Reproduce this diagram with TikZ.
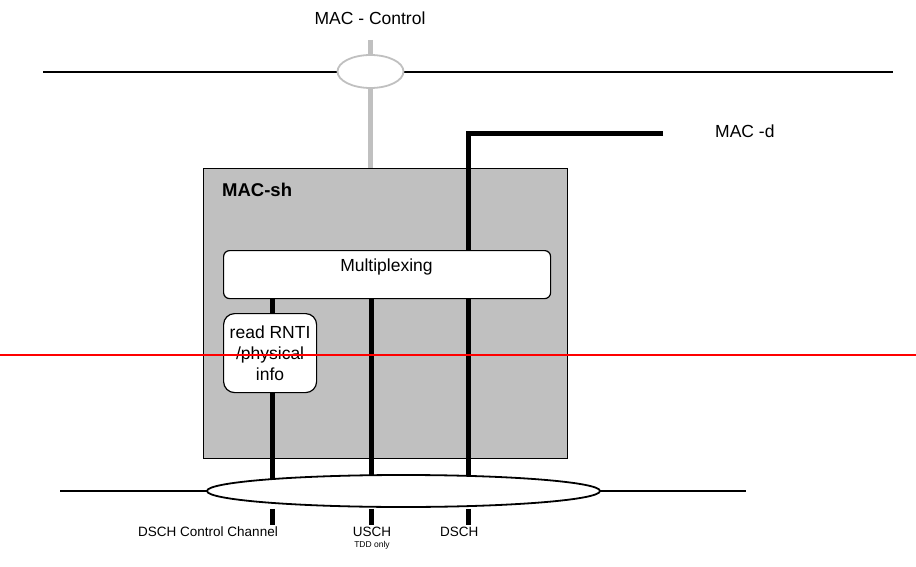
\documentclass[tikz,border=0pt]{standalone}
\usepackage{fontspec}
\setmainfont{Liberation Sans}
\usetikzlibrary{shapes.geometric}
\pgfdeclarelayer{back}
\pgfdeclarelayer{wires}
\pgfdeclarelayer{front}
\pgfsetlayers{back,wires,main,front}
\definecolor{boxgray}{HTML}{C0C0C0}
\tikzset{
  bigtext/.style={font=\fontsize{17.5}{21}\selectfont, inner sep=0pt},
  smalltext/.style={font=\fontsize{13.5}{15}\selectfont, inner sep=0pt},
  tinytext/.style={font=\fontsize{8.5}{10}\selectfont, inner sep=0pt},
  thinline/.style={line width=1.6pt, black},
  chanline/.style={line width=5pt, black},
  ctrlline/.style={line width=5pt, boxgray},
  ring/.style={ellipse, draw, fill=white, inner sep=0pt},
  entity/.style={draw, fill=white, line width=1.2pt, inner sep=0pt},
}
\begin{document}
\begin{tikzpicture}[x=1pt, y=-1pt]
\useasboundingbox (0,0) rectangle (916,567);

% MAC-sh entity box
\begin{pgfonlayer}{back}
\node[draw, fill=boxgray, line width=0.9pt, anchor=north west, inner sep=0pt,
      minimum width=364pt, minimum height=290pt] (macsh) at (203,168) {};
\end{pgfonlayer}
\node[anchor=west, inner sep=0pt, font=\fontsize{18.5}{20}\selectfont\bfseries]
  (macshlabel) at (222,190) {MAC-sh};

% functional blocks
\node[entity, rounded corners=6pt, anchor=north west,
      minimum width=327pt, minimum height=48pt] (mux) at (223,250) {};
\node[bigtext] (muxlabel) at (386.5,267) {Multiplexing};
\node[entity, rounded corners=11pt, anchor=north west, align=center,
      minimum width=93pt, minimum height=79pt, bigtext]
  (rnti) at (223,313) {read RNTI\\/physical\\info};

% service access rings
\node[ring, draw=boxgray, line width=1.8pt, minimum width=66pt, minimum height=33pt]
  (ctrlring) at (370.5,71.5) {};
\node[ring, line width=1.8pt, minimum width=393pt, minimum height=32pt]
  (chring) at (403.5,491) {};

% top labels
\node[bigtext] (ctrllabel) at (370,18) {MAC - Control};
\node[bigtext, anchor=west] (macdlabel) at (715,131) {MAC -d};

% free ends of the connectors
\coordinate (ctrltop) at (370,40);
\coordinate (topL) at (43,72);
\coordinate (topR) at (893,72);
\coordinate (botL) at (60,491);
\coordinate (botR) at (746,491);
\coordinate (macdend) at (663,134);
\coordinate (dcorner) at (468,134);
\coordinate (laneA) at (272,525);
\coordinate (laneB) at (371,525);
\coordinate (laneC) at (468,525);
\coordinate (redL) at (0,355);
\coordinate (redR) at (916,355);

\begin{pgfonlayer}{wires}
  \draw[ctrlline] (ctrltop) -- (ctrltop |- macsh.north);
  \draw[thinline] (topL) -- (topR);
  \draw[thinline, line width=2pt] (botL) -- (botR);
  \draw[chanline] (macdend) -- (dcorner) -- (dcorner |- chring.center);
  \draw[chanline] (mux.south -| laneA) -- (rnti.north -| laneA);
  \draw[chanline] (rnti.south -| laneA) -- (laneA |- chring.center);
  \draw[chanline] (mux.south -| laneB) -- (laneB |- chring.center);
\end{pgfonlayer}

% transport channel stubs below the ring
\draw[chanline] ([yshift=-1pt]laneA |- chring.south) -- (laneA);
\draw[chanline] ([yshift=-1pt]laneB |- chring.south) -- (laneB);
\draw[chanline] ([yshift=-1pt]laneC |- chring.south) -- (laneC);

% transport channel names
\node[smalltext, anchor=base east] (lblA) at (278,536) {DSCH Control Channel};
\node[smalltext, anchor=base] (lblB) at (372,536) {USCH};
\node[tinytext, anchor=base] (lblB2) at (372,547) {TDD only};
\node[smalltext, anchor=base west] (lblC) at (440,536) {DSCH};

% red marker line
\begin{pgfonlayer}{front}
  \draw[red, line width=1.4pt] (redL) -- (redR);
\end{pgfonlayer}
\end{tikzpicture}
\end{document}
